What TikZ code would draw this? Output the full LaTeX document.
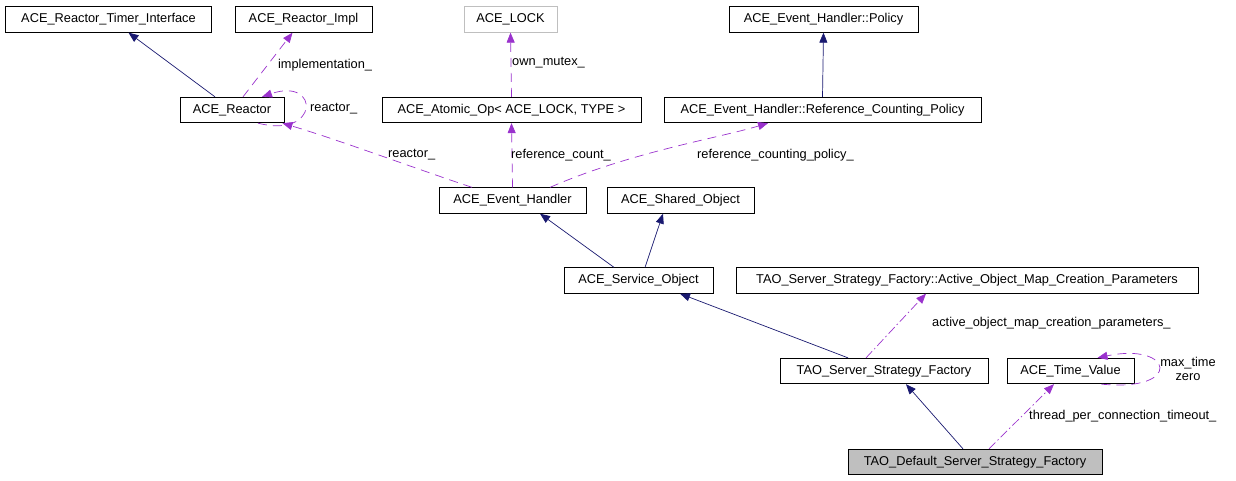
\documentclass[tikz,border=0pt]{standalone}
\usepackage{fontspec}
\setmainfont{Liberation Sans}
\usetikzlibrary{arrows.meta}
\definecolor{navy}{HTML}{191970}
\definecolor{orchid}{HTML}{9A32CD}
\definecolor{lgray}{HTML}{BFBFBF}
\begin{document}
\begin{tikzpicture}[x=1pt,y=-1pt,
  box/.style={draw=black, line width=0.8pt, inner sep=0pt, minimum height=25.5pt, font=\fontsize{12.8}{14.5}\selectfont, anchor=center},
  lbl/.style={font=\fontsize{12.8}{14.5}\selectfont, inner sep=0pt},
  inh/.style={draw=navy, line width=0.7pt, -{Triangle[length=10pt,width=8pt]}},
  use/.style={draw=orchid, line width=0.7pt, dash pattern=on 9pt off 6pt, -{Triangle[length=10pt,width=8pt]}},
  usedd/.style={draw=orchid, line width=0.7pt, dash pattern=on 9pt off 3pt on 1.5pt off 3pt, -{Triangle[length=10pt,width=8pt]}}]
\useasboundingbox (0,0) rectangle (1236,480);
\node[box, minimum width=206pt] (timer) at (108.5,19.5) {ACE\_Reactor\_Timer\_Interface};
\node[box, minimum width=137pt] (impl) at (303.5,19.5) {ACE\_Reactor\_Impl};
\node[box, draw=lgray, minimum width=93pt] (lock) at (510.5,19.5) {ACE\_LOCK};
\node[box, minimum width=189pt] (policy) at (823.5,19.5) {ACE\_Event\_Handler::Policy};
\node[box, minimum width=104pt] (reactor) at (232,110) {ACE\_Reactor};
\node[box, minimum width=259pt] (atomic) at (511.5,110) {ACE\_Atomic\_Op< ACE\_LOCK, TYPE >};
\node[box, minimum width=317pt] (rcp) at (822.5,110) {ACE\_Event\_Handler::Reference\_Counting\_Policy};
\node[box, minimum width=147pt] (eh) at (512.5,200.5) {ACE\_Event\_Handler};
\node[box, minimum width=147pt] (shared) at (680.5,200.5) {ACE\_Shared\_Object};
\node[box, minimum width=149pt] (so) at (638.5,280.5) {ACE\_Service\_Object};
\node[box, minimum width=462pt] (aomcp) at (967,280.5) {TAO\_Server\_Strategy\_Factory::Active\_Object\_Map\_Creation\_Parameters};
\node[box, minimum width=208pt] (tssf) at (884,371) {TAO\_Server\_Strategy\_Factory};
\node[box, minimum width=127pt] (tv) at (1070.5,371) {ACE\_Time\_Value};
\node[box, fill=lgray, minimum width=254pt] (dssf) at (975,462) {TAO\_Default\_Server\_Strategy\_Factory};

% inheritance
\draw[inh] ([xshift=-17pt]reactor.north) -- ([xshift=20pt]timer.south);
\draw[inh] (rcp.north) -- (policy.south);
\draw[inh] ([xshift=-24.5pt]so.north) -- ([xshift=27.5pt]eh.south);
\draw[inh] ([xshift=6.5pt]so.north) -- ([xshift=-17.5pt]shared.south);
\draw[inh] ([xshift=-36pt]tssf.north) -- ([xshift=41.5pt]so.south);
\draw[inh] ([xshift=-12pt]dssf.north) -- ([xshift=22pt]tssf.south);

% usage
\draw[use] ([xshift=11pt]reactor.north) -- ([xshift=-11pt]impl.south)
  node[lbl, anchor=west, pos=0.5, xshift=10pt] (limpl) {implementation\_};
\draw[use] ([xshift=26pt]reactor.south) .. controls +(62,16) and +(58,-20) .. ([xshift=30pt]reactor.north);
\node[lbl, anchor=west] (lreac1) at (310,109) {reactor\_};
\draw[use] ([xshift=-40.5pt]eh.north) .. controls +(-60,-20) and +(60,18) .. ([xshift=-2pt]reactor.south east);
\node[lbl, anchor=west] (lreac2) at (388,155) {reactor\_};
\draw[use] (eh.north) -- (atomic.south);
\node[lbl, anchor=west] (lrc) at (511,155) {reference\_count\_};
\draw[use] (atomic.north) -- (lock.south);
\node[lbl, anchor=west] (lmutex) at (512,63) {own\_mutex\_};
\draw[use] ([xshift=37.5pt]eh.north) .. controls +(80,-35) and +(-50,15) .. ([xshift=-54.5pt]rcp.south);
\node[lbl, anchor=west] (lrcp) at (697,155) {reference\_counting\_policy\_};
\draw[usedd] ([xshift=-18pt]tssf.north) -- ([xshift=-41pt]aomcp.south);
\node[lbl, anchor=west] (laomcp) at (932,323) {active\_object\_map\_creation\_parameters\_};
\draw[usedd] ([xshift=14pt]dssf.north) -- ([xshift=-16.5pt]tv.south);
\node[lbl, anchor=west] (ltpc) at (1029,416) {thread\_per\_connection\_timeout\_};
\draw[use] ([xshift=31pt]tv.south) .. controls +(82,8) and +(76,-16) .. ([xshift=27pt]tv.north);
\node[lbl, align=center, anchor=center] (lmax) at (1188,369) {max\_time\\zero};
\end{tikzpicture}
\end{document}
